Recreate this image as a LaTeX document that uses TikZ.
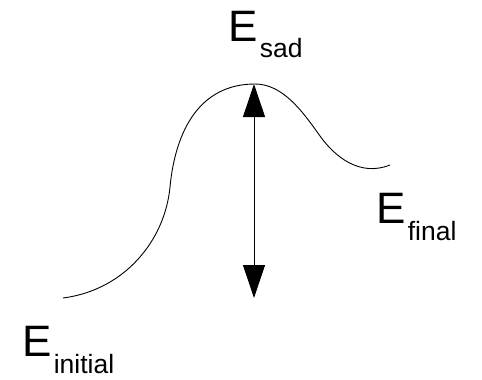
\documentclass[tikz,border=0pt]{standalone}
\usepackage{fontspec}
\setmainfont{Liberation Sans}
\usetikzlibrary{arrows.meta}
\newcommand{\energylabel}[1]{{\fontsize{44}{44}\selectfont E}\kern2pt{\fontsize{26.5}{26.5}\selectfont\raisebox{-17pt}{#1}}}
\begin{document}
\begin{tikzpicture}[x=1pt,y=-1pt,
  curveline/.style={line width=0.9pt, line join=round},
  energyarrow/.style={line width=0.9pt, {Triangle[length=33pt,width=22pt]}-{Triangle[length=33pt,width=22pt]}},
  elabel/.style={anchor=base west, inner sep=0pt, outer sep=0pt}]
\useasboundingbox (0,0) rectangle (482,380);
\draw[curveline] (63,298) .. controls (125,290) and (165,240) .. (170,187)
  .. controls (175.5,130) and (200,84) .. (255,84)
  .. controls (283,84) and (303,112) .. (320,136)
  .. controls (335,157) and (360,177) .. (390,165);
\coordinate (top) at (254,84);
\coordinate (bot) at (254,298);
\draw[energyarrow] (top) -- (bot);
\node[elabel] (esad) at (228.5,41) {\energylabel{sad}};
\node[elabel] (efinal) at (376.5,223) {\energylabel{final}};
\node[elabel] (einitial) at (22.5,356) {\energylabel{initial}};
\end{tikzpicture}
\end{document}
